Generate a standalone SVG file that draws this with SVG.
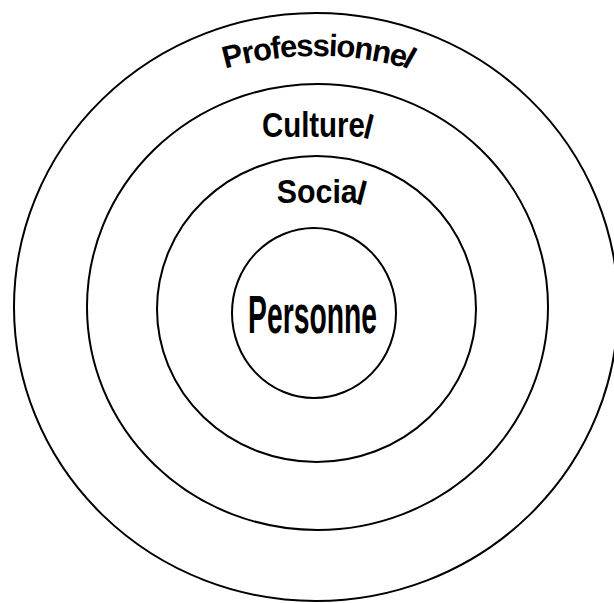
<svg xmlns="http://www.w3.org/2000/svg" width="614" height="603" viewBox="0 0 614 603">
<style>
.ring{fill:none;stroke:#000;stroke-width:2}
.lbl{font-family:"Liberation Sans",Arial,sans-serif;font-weight:bold;fill:#000}
</style>
<defs>
<path id="arcPro" d="M150,100.4 A336,336 0 0 1 484,100.4"/>
</defs>
<rect width="614" height="603" fill="#fff"/>
<g id="ring-professionnel">
<ellipse class="ring" cx="316" cy="307" rx="302" ry="294"/>
<text class="lbl" font-size="31" rotate="0 0 0 0 0 0 0 0 0 0 0 0 14" dx="0 0 0 0 0 0 0 0 0 0 0 0 -3"><textPath href="#arcPro" startOffset="50%" text-anchor="middle" textLength="186" lengthAdjust="spacing">Professionnel</textPath></text>
</g>
<g id="ring-culturel">
<ellipse class="ring" cx="317.5" cy="307" rx="230.5" ry="223"/>
<text class="lbl" font-size="30" transform="translate(316,137) scale(0.98,1.14)" text-anchor="middle" rotate="0 0 0 0 0 0 0 16" dx="0 0 0 0 0 0 0 -3">Culturel</text>
</g>
<g id="ring-social">
<ellipse class="ring" cx="316.5" cy="309" rx="159.5" ry="153"/>
<text class="lbl" font-size="31" transform="translate(320,203) scale(0.98,1.08)" text-anchor="middle" rotate="0 0 0 0 0 16" dx="0 0 0 0 0 -3">Social</text>
</g>
<g id="personne">
<ellipse class="ring" cx="314" cy="313" rx="82" ry="85"/>
<text class="lbl" font-size="53" transform="translate(312.5,333) scale(0.534,1)" text-anchor="middle">Personne</text>
</g>
</svg>
